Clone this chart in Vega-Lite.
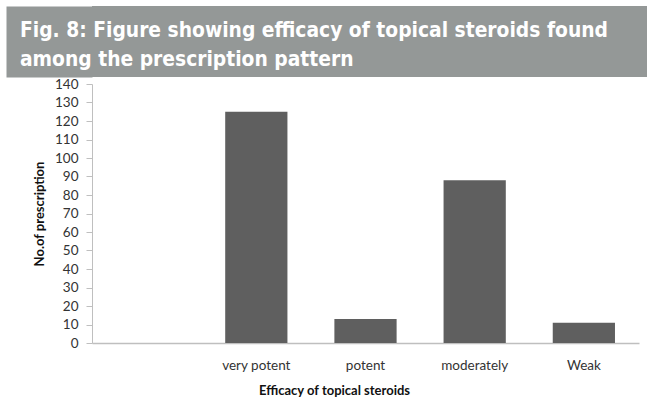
{
  "$schema": "https://vega.github.io/schema/vega-lite/v6.json",
  "padding": {"left": 6, "top": 6, "right": 0, "bottom": 0},
  "background": "white",
  "spacing": 0,
  "config": {"view": {"stroke": null}, "concat": {"spacing": 0}},
  "vconcat": [
    {
      "width": 555,
      "height": 71,
      "view": {"fill": "#949897", "stroke": null},
      "layer": [
        {
          "data": {"values": [{"text": "Fig. 8: Figure showing efficacy of topical steroids found\namong the prescription pattern"}]},
          "mark": {
            "type": "text",
            "lineBreak": "\n",
            "align": "left",
            "baseline": "alphabetic",
            "x": -72,
            "y": 31,
            "font": "'DejaVu Sans Condensed', Roboto",
            "fontWeight": "bold",
            "fontSize": 20.8,
            "lineHeight": 29,
            "color": "white"
          },
          "encoding": {"text": {"field": "text", "type": "nominal"}}
        },
        {
          "data": {"values": [{"v": 0}]},
          "mark": {"type": "rule", "opacity": 0},
          "encoding": {
            "y": {
              "field": "v",
              "type": "quantitative",
              "axis": {
                "title": null,
                "labels": false,
                "ticks": false,
                "grid": false,
                "domainColor": "#949897",
                "domainWidth": 86,
                "domainCap": "butt",
                "offset": 43
              }
            }
          }
        }
      ]
    },
    {
      "width": 547,
      "height": 259,
      "data": {
        "values": [
          {"efficacy": "", "prescriptions": 0},
          {"efficacy": "very potent", "prescriptions": 125},
          {"efficacy": "potent", "prescriptions": 13},
          {"efficacy": "moderately", "prescriptions": 88},
          {"efficacy": "Weak", "prescriptions": 11}
        ]
      },
      "mark": {"type": "bar", "color": "#5f5f5f"},
      "encoding": {
        "x": {
          "field": "efficacy",
          "type": "nominal",
          "sort": null,
          "scale": {"domain": ["", "very potent", "potent", "moderately", "Weak"], "paddingInner": 0.43, "paddingOuter": 0.22},
          "axis": {
            "title": "Efficacy of topical steroids",
            "labelAngle": 0,
            "ticks": false,
            "domainColor": "#bfbfbf",
            "domainWidth": 1.5,
            "labelFont": "Lato",
            "labelFontSize": 13.5,
            "labelColor": "#333333",
            "labelPadding": 15,
            "titleFont": "Lato",
            "titleFontSize": 13,
            "titleFontWeight": "bold",
            "titleColor": "#111111",
            "titlePadding": 13,
            "titleX": 242
          }
        },
        "y": {
          "field": "prescriptions",
          "type": "quantitative",
          "scale": {"domain": [0, 140], "nice": false},
          "axis": {
            "values": [0, 10, 20, 30, 40, 50, 60, 70, 80, 90, 100, 110, 120, 130, 140],
            "grid": false,
            "title": ["", "No.of prescription"],
            "titleLineHeight": 27,
            "titleFont": "Lato",
            "titleFontSize": 13,
            "titleFontWeight": "bold",
            "titleColor": "#111111",
            "titlePadding": 8,
            "domainColor": "#bfbfbf",
            "tickColor": "#bfbfbf",
            "tickSize": 6,
            "labelFont": "Lato",
            "labelFontSize": 13.5,
            "labelColor": "#333333",
            "labelPadding": 8
          }
        }
      }
    }
  ]
}
